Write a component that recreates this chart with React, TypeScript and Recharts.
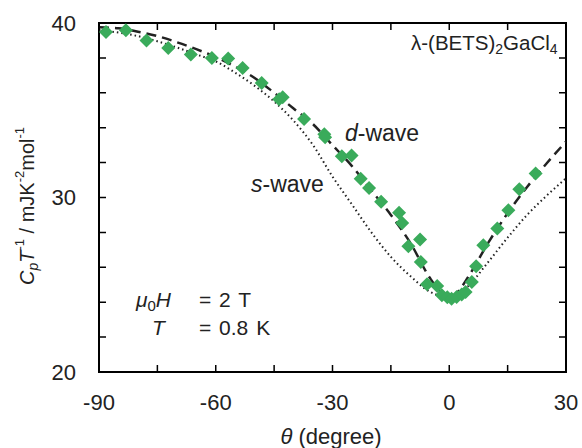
import React from "react"
import { ComposedChart, Line, Scatter, XAxis, YAxis, ReferenceArea } from "recharts"

// measured points (theta in degree, Cp/T in mJ K^-2 mol^-1)
const measTheta = [
  -88.2, -83.1, -77.8, -72.2, -66.4, -61.0, -56.8, -53.1, -48.2, -43.7, -42.8, -37.3,
  -32.1, -31.9, -27.6, -25.1, -22.75, -20.6, -17.5, -12.9, -12.1, -10.5, -7.5, -7.3,
  -5.7, -3.1, -1.9, -0.5, 0.6, 1.9, 3.2, 4.2, 5.8, 6.9, 8.75, 12.35, 15.2, 18.0, 22.2,
]
const measCp = [
  39.48, 39.58, 38.99, 38.57, 38.19, 38.0, 37.96, 37.42, 36.56, 35.63, 35.74, 34.5,
  33.62, 33.45, 32.36, 32.4, 31.08, 30.54, 29.75, 29.13, 28.54, 27.2, 27.59, 26.3,
  25.03, 24.93, 24.4, 24.28, 24.2, 24.3, 24.44, 24.58, 25.16, 26.06, 27.26, 28.22, 29.27, 30.47, 31.37,
]

// model curves
const curveTheta = [
  -90, -85, -80, -75, -70, -65, -60, -55, -50, -45, -40, -35, -30, -25, -20, -15,
  -10, -5, -2, 0, 2, 5, 10, 15, 20, 25, 30,
]
const dWave = [
  39.75, 39.7, 39.5, 39.25, 38.9, 38.5, 38.05, 37.5, 36.85, 36.0, 35.1, 34.2, 33.0,
  31.8, 30.4, 29.0, 27.4, 25.4, 24.55, 24.3, 24.55, 25.5, 27.4, 29.1, 30.6, 31.95, 33.2,
]
const sWave = [
  39.6, 39.45, 39.25, 38.95, 38.6, 38.2, 37.8, 37.15, 36.4, 35.5, 34.4, 33.0, 31.2,
  29.6, 28.0, 26.6, 25.5, 24.6, 24.35, 24.3, 24.4, 24.95, 26.3, 27.7, 29.0, 30.1, 31.1,
]

const xTicks = [-90, -75, -60, -45, -30, -15, 0, 15, 30]
const yTicks = [20, 22, 24, 26, 28, 30, 32, 34, 36, 38, 40]

const points = measTheta.map((theta, i) => ({ theta, cp: measCp[i] }))
const curves = curveTheta.map((theta, i) => ({ theta, d: dWave[i], s: sWave[i] }))

const font = "'Liberation Sans', Arial, sans-serif"
const axisColor = "#000"
const W = 582
const H = 448
const margin = { top: 23, right: 16, bottom: 0, left: 0 }
const X_AXIS_H = 76
const Y_AXIS_W = 99
const PLOT_W = W - margin.left - margin.right - Y_AXIS_W
const PLOT_H = H - margin.top - margin.bottom - X_AXIS_H
const TICK = 7
const XM = 22
const YM = 23

function Diamond(props: any) {
  const { cx, cy } = props
  if (cx == null || cy == null) return null
  const r = 7
  return (
    <polygon
      points={`${cx},${cy - r} ${cx + r},${cy} ${cx},${cy + r} ${cx - r},${cy}`}
      fill="#3aab5b"
    />
  )
}

// inward ticks on bottom + mirrored on top, labels outside
function BottomTick(props: any) {
  const x = Number(props.x)
  const y = Number(props.y)
  const v = props.payload.value
  const base = y - XM
  const top = base - PLOT_H
  return (
    <g>
      <path
        d={`M${x},${base}L${x},${base - TICK}M${x},${top}L${x},${top + TICK}`}
        stroke={axisColor}
        strokeWidth={1.5}
        fill="none"
      />
      {v % 30 === 0 && (
        <text x={x} y={y} dy="0.71em" textAnchor="middle" fontSize={22} fill="#222" fontFamily={font}>
          {v}
        </text>
      )}
    </g>
  )
}

// inward ticks on left + mirrored on right
function LeftTick(props: any) {
  const x = Number(props.x)
  const y = Number(props.y)
  const v = props.payload.value
  const base = x + YM
  const right = base + PLOT_W
  return (
    <g>
      <path
        d={`M${base},${y}L${base + TICK},${y}M${right},${y}L${right - TICK},${y}`}
        stroke={axisColor}
        strokeWidth={1.5}
        fill="none"
      />
      {v % 10 === 0 && (
        <text x={x} y={y} dy="0.36em" textAnchor="end" fontSize={22} fill="#222" fontFamily={font}>
          {v}
        </text>
      )}
    </g>
  )
}

export default function App() {
  return (
    <div style={{ position: "absolute", left: 0, top: 0, width: W, height: H, background: "#fff" }}>
      <ComposedChart width={W} height={H} margin={margin}>
        <XAxis
          xAxisId="b"
          dataKey="theta"
          type="number"
          domain={[-90, 30]}
          ticks={xTicks}
          tick={<BottomTick />}
          tickSize={0}
          tickMargin={XM}
          height={X_AXIS_H}
          axisLine={{ stroke: "#000", strokeWidth: 2 }}
          tickLine={false}
          interval={0}
          allowDataOverflow
        />
        <YAxis
          yAxisId="l"
          type="number"
          domain={[20, 40]}
          ticks={yTicks}
          tick={<LeftTick />}
          tickSize={0}
          tickMargin={YM}
          width={Y_AXIS_W}
          stroke="#000"
          axisLine
          tickLine={false}
          interval={0}
          allowDataOverflow
        />
        <ReferenceArea
          xAxisId="b"
          yAxisId="l"
          x1={-90}
          x2={30}
          y1={20}
          y2={40}
          fill="none"
          stroke={axisColor}
          strokeWidth={2}
          ifOverflow="visible"
        />
        <Line
          xAxisId="b"
          yAxisId="l"
          data={curves}
          dataKey="s"
          type="monotone"
          stroke="#222"
          strokeWidth={2}
          strokeDasharray="1.5 3"
          dot={false}
          isAnimationActive={false}
        />
        <Line
          xAxisId="b"
          yAxisId="l"
          data={curves}
          dataKey="d"
          type="monotone"
          stroke="#222"
          strokeWidth={2.5}
          strokeDasharray="10 6"
          dot={false}
          isAnimationActive={false}
        />
        <Scatter
          xAxisId="b"
          yAxisId="l"
          data={points}
          dataKey="cp"
          shape={Diamond}
          isAnimationActive={false}
        />
      </ComposedChart>
      <svg
        width={W}
        height={H}
        style={{ position: "absolute", left: 0, top: 0, pointerEvents: "none" }}
        fontFamily={font}
        fill="#222"
      >
        <text x={29} y={206} fontSize={20} textAnchor="middle" transform="rotate(-90 29 206)" dominantBaseline="middle">
          <tspan fontStyle="italic">C</tspan>
          <tspan fontStyle="italic" fontSize={14} dy={5}>p</tspan>
          <tspan fontStyle="italic" dy={-5}>T</tspan>
          <tspan fontSize={13} dy={-8}>-1</tspan>
          <tspan dy={8}> / mJK</tspan>
          <tspan fontSize={13} dy={-8}>-2</tspan>
          <tspan dy={8}>mol</tspan>
          <tspan fontSize={13} dy={-8}>-1</tspan>
        </text>
        <text x={331} y={444} fontSize={22} textAnchor="middle">
          <tspan fontStyle="italic">θ</tspan> (degree)
        </text>
        <text x={411} y={50} fontSize={20.5}>
          λ-(BETS)<tspan fontSize={14} dy={4}>2</tspan>
          <tspan dy={-4}>GaCl</tspan>
          <tspan fontSize={14} dy={4}>4</tspan>
        </text>
        <text x={345} y={141} fontSize={23}>
          <tspan fontStyle="italic">d</tspan>-wave
        </text>
        <text x={251} y={192} fontSize={23}>
          <tspan fontStyle="italic">s</tspan>-wave
        </text>
        <text x={136} y={307} fontSize={21}>
          <tspan fontStyle="italic">μ</tspan>
          <tspan fontSize={15} dy={4}>0</tspan>
          <tspan fontStyle="italic" dy={-4}>H</tspan>
        </text>
        <text x={199} y={307} fontSize={21} wordSpacing={2}>= 2 T</text>
        <text x={152} y={335} fontSize={21} fontStyle="italic">T</text>
        <text x={199} y={335} fontSize={21} wordSpacing={2}>= 0.8 K</text>
      </svg>
    </div>
  )
}
